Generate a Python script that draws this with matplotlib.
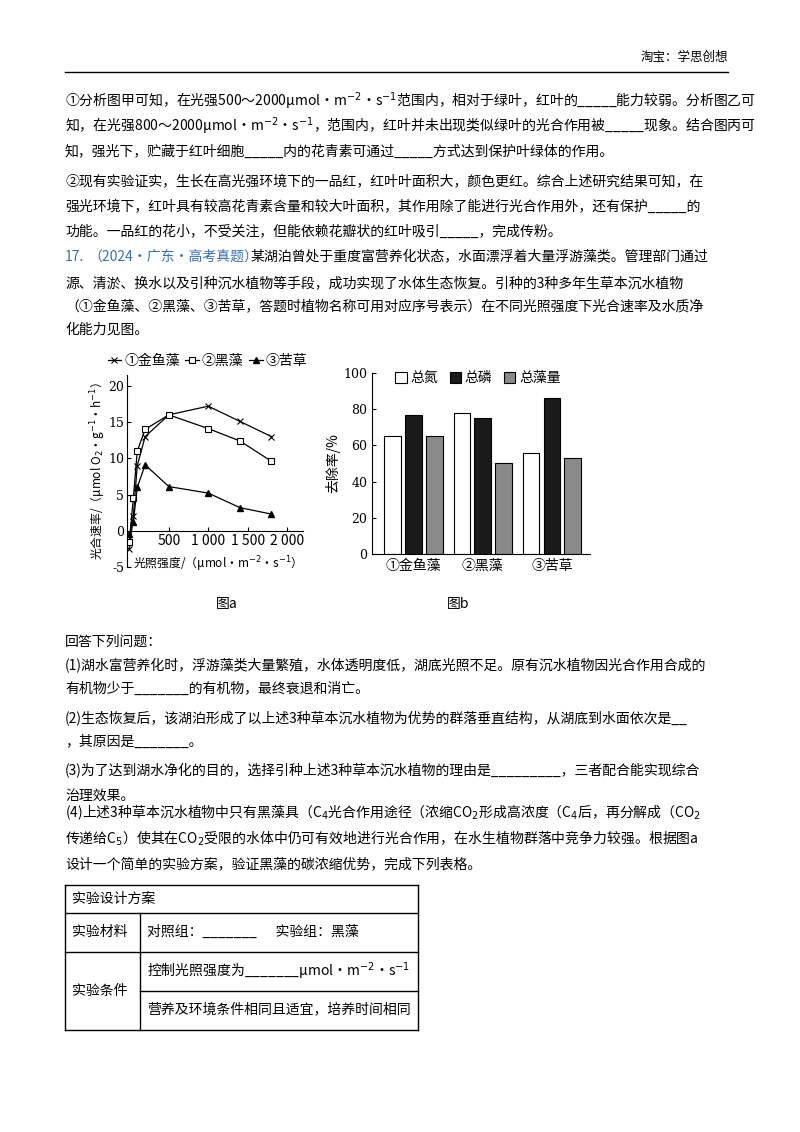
import matplotlib.pyplot as plt
import numpy as np

plt.rcParams['font.family'] = ['Noto Sans CJK SC', 'DejaVu Sans']
plt.rcParams['mathtext.fontset'] = 'dejavusans'

W, H = 800, 1132

# figure a data
light = [0, 50, 100, 200, 500, 1000, 1400, 1800]
rate_jinyu = [-2.5, 2.0, 9.0, 13.0, 16.0, 17.2, 15.1, 13.0]
rate_heizao = [-1.5, 4.5, 11.0, 14.0, 16.0, 14.1, 12.4, 9.6]
rate_kucao = [-0.5, 1.2, 6.0, 9.1, 6.1, 5.2, 3.2, 2.3]

# figure b data
plants = ['①金鱼藻', '②黑藻', '③苦草']
removal_n = [65, 78, 56]
removal_p = [77, 75, 86]
removal_algae = [65, 50, 53]

fig = plt.figure(figsize=(8, 11.32), dpi=100)


def txt(x, y, s, size=10, **kw):
    fig.text(x / W, 1 - y / H, s, fontsize=size, va='center', ha=kw.pop('ha', 'left'), **kw)


txt(728, 57, '淘宝：学思创想', 9, ha='right')
fig.add_artist(plt.Line2D([65 / W, 728 / W], [1 - 72 / H, 1 - 72 / H], color='black', lw=1))

unit = r'μmol·m$^{-2}$·s$^{-1}$'
lines = [
    (101, '①分析图甲可知，在光强500～2000' + unit + '范围内，相对于绿叶，红叶的_____能力较弱。分析图乙可'),
    (126, '知，在光强800～2000' + unit + '，范围内，红叶并未出现类似绿叶的光合作用被_____现象。结合图丙可'),
    (152, '知，强光下，贮藏于红叶细胞_____内的花青素可通过_____方式达到保护叶绿体的作用。'),
    (182, '②现有实验证实，生长在高光强环境下的一品红，红叶叶面积大，颜色更红。综合上述研究结果可知，在'),
    (207, '强光环境下，红叶具有较高花青素含量和较大叶面积，其作用除了能进行光合作用外，还有保护_____的'),
    (232, '功能。一品红的花小，不受关注，但能依赖花瓣状的红叶吸引_____，完成传粉。'),
    (283, '源、清淤、换水以及引种沉水植物等手段，成功实现了水体生态恢复。引种的3种多年生草本沉水植物'),
    (307, '（①金鱼藻、②黑藻、③苦草，答题时植物名称可用对应序号表示）在不同光照强度下光合速率及水质净'),
    (330, '化能力见图。'),
    (642, '回答下列问题：'),
    (666, '(1)湖水富营养化时，浮游藻类大量繁殖，水体透明度低，湖底光照不足。原有沉水植物因光合作用合成的'),
    (689, '有机物少于_______的有机物，最终衰退和消亡。'),
    (718, '(2)生态恢复后，该湖泊形成了以上述3种草本沉水植物为优势的群落垂直结构，从湖底到水面依次是__'),
    (742, '，其原因是_______。'),
    (771, '(3)为了达到湖水净化的目的，选择引种上述3种草本沉水植物的理由是_________，三者配合能实现综合'),
    (796, '治理效果。'),
    (812, '(4)上述3种草本沉水植物中只有黑藻具（C$_4$光合作用途径（浓缩CO$_2$形成高浓度（C$_4$后，再分解成（CO$_2$'),
    (838, '传递给C$_5$）使其在CO$_2$受限的水体中仍可有效地进行光合作用，在水生植物群落中竞争力较强。根据图a'),
    (864, '设计一个简单的实验方案，验证黑藻的碳浓缩优势，完成下列表格。'),
]
for y, s in lines:
    txt(65, y, s)
txt(65, 257, '17.', color='#3a6fb5')
txt(88, 257, '（2024·广东·高考真题）', color='#3a6fb5')
txt(250, 257, '某湖泊曾处于重度富营养化状态，水面漂浮着大量浮游藻类。管理部门通过')
txt(227, 604, '图a', ha='center')
txt(458, 604, '图b', ha='center')

# table
def hline(x0, x1, y):
    fig.add_artist(plt.Line2D([x0 / W, x1 / W], [1 - y / H] * 2, color='black', lw=1))

def vline(x, y0, y1):
    fig.add_artist(plt.Line2D([x / W] * 2, [1 - y0 / H, 1 - y1 / H], color='black', lw=1))

hline(65, 418, 885)
hline(65, 418, 913)
hline(65, 418, 952)
hline(140, 418, 991)
hline(65, 418, 1030)
vline(65, 885, 1030)
vline(418, 885, 1030)
vline(140, 913, 1030)
txt(72, 899, '实验设计方案')
txt(72, 932, '实验材料')
txt(147, 932, '对照组：_______      实验组：黑藻')
txt(72, 991, '实验条件')
txt(147, 971, '控制光照强度为_______' + unit)
txt(147, 1010, '营养及环境条件相同且适宜，培养时间相同')

# figure a
axa = fig.add_axes([127 / W, 1 - 567 / H, (303 - 127) / W, (567 - 375) / H])
axa.plot(light, rate_jinyu, color='black', lw=0.9, marker='x', ms=4, mew=0.8, label='①金鱼藻')
axa.plot(light, rate_heizao, color='black', lw=0.9, marker='s', ms=4, mfc='white', mew=0.8, label='②黑藻')
axa.plot(light, rate_kucao, color='black', lw=0.9, marker='^', ms=4.5, label='③苦草')
axa.set_xlim(-30, 2200)
axa.set_ylim(-5, 21.5)
axa.set_xticks([500, 1000, 1500, 2000])
axa.set_xticklabels(['500', '1 000', '1 500', '2 000'], fontsize=8.5, family='DejaVu Serif')
axa.set_yticks([-5, 0, 5, 10, 15, 20])
axa.set_yticklabels(['-5', '0', '5', '10', '15', '20'], fontsize=9, family='DejaVu Serif')
axa.spines['top'].set_visible(False)
axa.spines['right'].set_visible(False)
axa.spines['bottom'].set_position(('data', 0))
axa.tick_params(direction='in', length=3, pad=2)
axa.set_ylabel(r'光合速率/（μmol O$_2$·g$^{-1}$·h$^{-1}$）', fontsize=8.5, labelpad=0)
txt(215, 564, '光照强度/（' + unit + '）', 8.5, ha='center')
axa.legend(loc='lower left', bbox_to_anchor=(-0.15, 1.0), ncol=3, frameon=False, fontsize=10,
           handlelength=1.0, handletextpad=0.2, columnspacing=0.4, borderaxespad=0.1)

# figure b
axb = fig.add_axes([372 / W, 1 - 554 / H, (590 - 372) / W, (554 - 373) / H])
xg = np.arange(len(plants))
bw = 0.24
axb.bar(xg - 0.3, removal_n, bw, color='white', edgecolor='black', lw=0.8, label='总氮')
axb.bar(xg, removal_p, bw, color='#1a1a1a', edgecolor='black', lw=0.8, label='总磷')
axb.bar(xg + 0.3, removal_algae, bw, color='#8a8a8a', edgecolor='black', lw=0.8, label='总藻量')
axb.set_xlim(-0.6, 2.55)
axb.set_ylim(0, 100)
axb.set_yticks([0, 20, 40, 60, 80, 100])
axb.set_yticklabels(['0', '20', '40', '60', '80', '100'], fontsize=9, family='DejaVu Serif')
axb.set_xticks(xg)
axb.set_xticklabels(plants, fontsize=10)
axb.tick_params(axis='x', length=0)
axb.tick_params(axis='y', direction='in', length=3)
axb.spines['top'].set_visible(False)
axb.spines['right'].set_visible(False)
axb.set_ylabel('去除率/%', fontsize=10, labelpad=2)
axb.legend(loc='upper left', bbox_to_anchor=(0.05, 1.08), ncol=3, frameon=False, fontsize=10,
           handlelength=0.8, handleheight=0.8, handletextpad=0.3, columnspacing=0.8)

fig.savefig('out.png', dpi=100)
